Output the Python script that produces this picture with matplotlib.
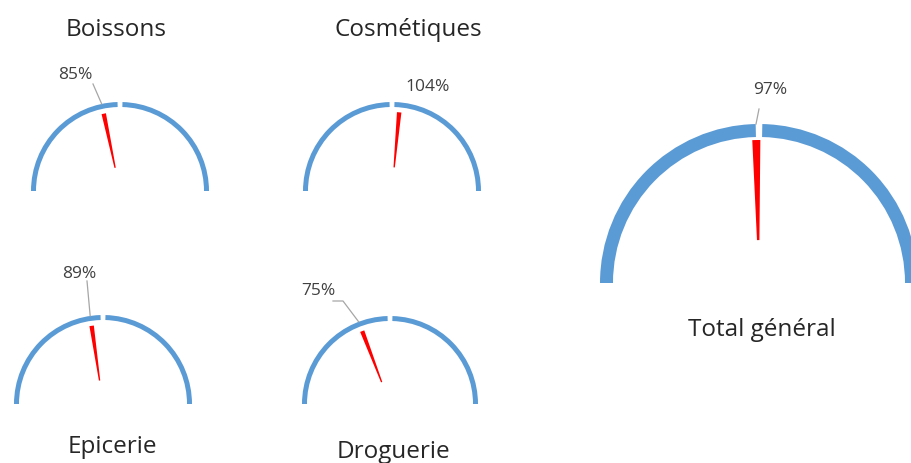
import matplotlib.pyplot as plt
from matplotlib.patches import Wedge
import numpy as np

plt.rcParams['font.family'] = ['Open Sans', 'DejaVu Sans']

categories = ['Boissons', 'Cosmétiques', 'Epicerie', 'Droguerie', 'Total général']
ratios = [85, 104, 89, 75, 97]      # % of target reached
scale_max = 200                      # half circle covers 0..200 %
needle_size = 3.6                    # needle slice, in % of the scale

# layout, in pixels from the top-left corner
W, H = 911, 464
centers = [(120, 192), (392, 192), (103, 405), (390, 405), (759, 284)]
radii = [89, 89, 89, 88, 159]
ring = [5, 5, 5, 5, 13]
title_xy = [(116, 30), (408, 30), (112, 447), (393, 452), (762, 330)]
label_xy = [(75, 75), (428, 87), (79, 274), (318, 291), (770, 90)]
leader_from = [(93, 85), None, (87, 282), (333, 302), (759, 110)]
leader_knee = [None, None, None, (343, 302), None]

blue = '#5b9bd5'
red = '#ff0000'
txt = '#262626'


def py(y):
    return H - y


def angle_of(v):
    return 180 - 180.0 * v / scale_max


fig = plt.figure(figsize=(W / 100, H / 100), dpi=100)
ax = fig.add_axes([0, 0, 1, 1])
ax.set_xlim(0, W)
ax.set_ylim(0, H)
ax.set_aspect('equal')
ax.axis('off')

for i, name in enumerate(categories):
    cx, cy = centers[i][0], py(centers[i][1])
    r = radii[i]
    big = r > 120
    gap = 1.2 if big else 1.6
    # two halves of the scale (0-100 and 100-200), small gap at 100 %
    ax.add_patch(Wedge((cx, cy), r, 90 + gap, 180, width=ring[i], color=blue, lw=0))
    ax.add_patch(Wedge((cx, cy), r, 0, 90 - gap, width=ring[i], color=blue, lw=0))

    # needle: thin red slice starting at the value, fading before the centre
    a1 = angle_of(ratios[i] + needle_size)
    a2 = angle_of(ratios[i])
    r_needle = r - ring[i] - (3 if big else 5)
    ax.add_patch(Wedge((cx, cy), r_needle, a1, a2,
                       width=r_needle * 0.7, color=red, lw=0))

    # value label + leader line
    lx, ly = label_xy[i]
    ax.text(lx, py(ly), f'{ratios[i]}%', ha='center', va='center',
            fontsize=12.5, color='#404040')
    if leader_from[i] is not None:
        a = 0.5 * (a1 + a2)
        ex = cx + r * np.cos(np.radians(a))
        ey = cy + r * np.sin(np.radians(a))
        xs = [leader_from[i][0]]
        ys = [py(leader_from[i][1])]
        if leader_knee[i] is not None:
            xs.append(leader_knee[i][0])
            ys.append(py(leader_knee[i][1]))
        xs.append(ex)
        ys.append(ey)
        ax.plot(xs, ys, color='#a6a6a6', lw=0.9)

    tx, ty = title_xy[i]
    ax.text(tx, py(ty), name, ha='center', va='center', fontsize=17.5, color=txt)

fig.savefig('out.png', dpi=100)
